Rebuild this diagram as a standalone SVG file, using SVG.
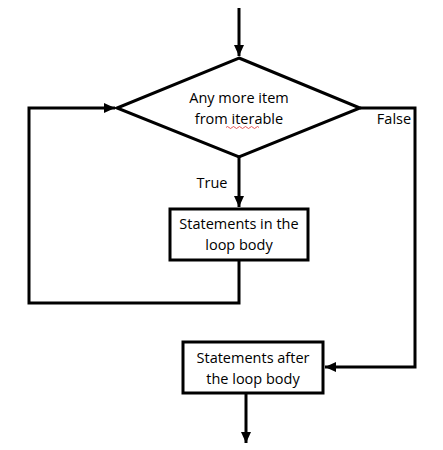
<svg xmlns="http://www.w3.org/2000/svg" width="443" height="450" viewBox="0 0 443 450">
<style>
.ln{fill:none;stroke:#000;stroke-width:3;}
.shape{fill:#fff;stroke:#000;stroke-width:3;}
.t{font-family:"Open Sans","Liberation Sans",sans-serif;font-size:14.5px;fill:#000;text-anchor:middle;}
</style>
<defs>
<marker id="ah" markerUnits="userSpaceOnUse" markerWidth="12" markerHeight="12" viewBox="0 0 12 12" refX="11" refY="6" orient="auto">
<path d="M0,1 L11,6 L0,11 Z" fill="#000"/>
</marker>
</defs>
<rect width="443" height="450" fill="#fff"/>
<g id="connectors">
<path class="ln" d="M239,8 L239,56" marker-end="url(#ah)"/>
<path class="ln" d="M239,157 L239,207" marker-end="url(#ah)"/>
<path class="ln" d="M239,260 L239,303 L29,303 L29,108 L115,108" marker-end="url(#ah)"/>
<path class="ln" d="M360,108 L415,108 L415,367 L325,367" marker-end="url(#ah)"/>
<path class="ln" d="M246,393 L246,443" marker-end="url(#ah)"/>
</g>
<g id="decision">
<polygon class="shape" points="239,58 360,108 239,157 117,108"/>
<text class="t" x="239" y="103">Any more item</text>
<text class="t" x="239" y="124">from iterable</text>
<path d="M226,127.5 q1.5,-2 3,0 t3,0 t3,0 t3,0 t3,0 t3,0 t3,0 t3,0 t3,0 t3,0 t3,0" fill="none" stroke="#e03030" stroke-width="0.8"/>
</g>
<g id="label-true"><text class="t" x="212" y="188">True</text></g>
<g id="label-false"><text class="t" x="394" y="124">False</text></g>
<g id="loop-body">
<rect class="shape" x="170" y="209" width="138" height="51"/>
<text class="t" x="239" y="229">Statements in the</text>
<text class="t" x="239" y="250">loop body</text>
</g>
<g id="after-loop">
<rect class="shape" x="183" y="342" width="140" height="51"/>
<text class="t" x="253" y="363">Statements after</text>
<text class="t" x="253" y="384">the loop body</text>
</g>
</svg>
